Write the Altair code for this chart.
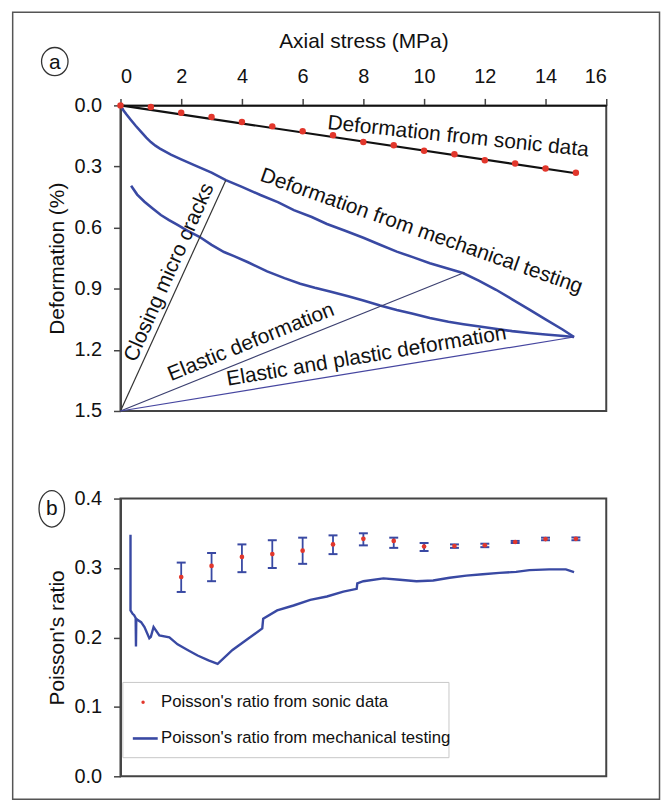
import altair as alt
import pandas as pd

FONT = "Liberation Sans"
BLUE = "#3949a3"
RED = "#e2372c"
INK = "#111111"

# ---------------- Panel (a) data ----------------
sonic_stress = list(range(0, 16))
sonic_deform = [0.0, 0.008, 0.036, 0.057, 0.082, 0.103, 0.127, 0.147,
                0.180, 0.196, 0.223, 0.240, 0.269, 0.285, 0.310, 0.331]
sonic_fit_stress = [0.0, 15.0]
sonic_fit_deform = [0.0, 0.333]

load_stress = [0.0, 0.1, 0.2, 0.35, 0.5, 0.68, 0.85, 1.0, 1.15, 1.3, 1.66, 2.0, 2.43,
               3.0, 3.47, 4.0, 4.61, 5.2, 5.71, 6.3, 6.8, 7.4, 8.0, 8.55, 9.1,
               9.65, 10.19, 10.75, 11.28, 11.8, 12.37, 12.9, 13.47, 14.0, 14.56, 14.94]
load_deform = [0.0, 0.025, 0.045, 0.073, 0.10, 0.13, 0.158, 0.18, 0.198, 0.212, 0.242, 0.265, 0.293,
               0.33, 0.367, 0.40, 0.44, 0.476, 0.514, 0.548, 0.582, 0.615, 0.65, 0.684, 0.718,
               0.746, 0.775, 0.80, 0.823, 0.86, 0.905, 0.952, 1.003, 1.05, 1.10, 1.137]

unload_stress = [0.35, 0.55, 0.79, 1.05, 1.33, 1.6, 1.88, 2.2, 2.6, 3.0, 3.41, 3.74,
                 4.2, 4.83, 5.4, 5.92, 6.4, 6.9, 7.5, 8.0, 8.55, 9.1, 9.6, 10.19,
                 10.8, 11.3, 11.83, 12.4, 12.9, 13.47, 14.0, 14.5, 14.94]
unload_deform = [0.395, 0.438, 0.473, 0.505, 0.538, 0.563, 0.587, 0.615, 0.645, 0.685, 0.72, 0.74,
                 0.77, 0.815, 0.848, 0.875, 0.895, 0.913, 0.937, 0.958, 0.982, 1.004, 1.022, 1.044,
                 1.062, 1.074, 1.085, 1.098, 1.108, 1.117, 1.125, 1.131, 1.137]

guide_names = ["Closing micro cracks", "Elastic deformation", "Elastic and plastic deformation"]
guide_start_stress = [0.0, 0.0, 0.0]
guide_start_deform = [1.5, 1.5, 1.5]
guide_end_stress = [3.47, 11.33, 14.94]
guide_end_deform = [0.367, 0.82, 1.137]
guide_colors = ["#333333", "#3c4070", "#4646a0"]

annotation_text = ["Deformation from sonic data", "Deformation from mechanical testing",
                   "Closing micro cracks", "Elastic deformation", "Elastic and plastic deformation"]
annotation_stress = [11.12, 9.91, 1.61, 4.30, 8.10]
annotation_deform = [0.154, 0.619, 0.82, 1.163, 1.233]
annotation_angle = [6, 19.4, 294, 338, 350.5]

# ---------------- Panel (b) data ----------------
pr_sonic_stress = list(range(2, 16))
pr_sonic = [0.287, 0.303, 0.316, 0.320, 0.325, 0.334, 0.342, 0.339, 0.331, 0.3316,
            0.3326, 0.3374, 0.3417, 0.342]
pr_sonic_lo = [0.2655, 0.281, 0.294, 0.300, 0.306, 0.320, 0.3326, 0.329, 0.3245, 0.329,
               0.330, 0.336, 0.340, 0.340]
pr_sonic_hi = [0.3078, 0.3216, 0.334, 0.340, 0.3437, 0.347, 0.350, 0.3437, 0.336, 0.334,
               0.335, 0.339, 0.3437, 0.344]

pr_mech_stress = [0.33, 0.33, 0.4, 0.45, 0.50, 0.51, 0.52, 0.57, 0.68, 0.79, 0.95, 1.0,
                  1.09, 1.28, 1.61, 1.88, 2.21, 2.54, 2.9, 3.2, 3.69, 4.2, 4.67, 4.7,
                  5.16, 5.7, 6.25, 6.8, 7.34, 7.78, 7.8, 8.0, 8.66, 9.2, 9.75, 10.3,
                  10.84, 11.39, 11.93, 12.48, 13.03, 13.47, 14.12, 14.67, 14.94]
pr_mech = [0.348, 0.239, 0.234, 0.232, 0.228, 0.187, 0.227, 0.225, 0.222, 0.215, 0.199, 0.201,
           0.215, 0.203, 0.200, 0.190, 0.182, 0.174, 0.167, 0.162, 0.182, 0.198, 0.213, 0.227,
           0.239, 0.246, 0.254, 0.259, 0.266, 0.270, 0.278, 0.281, 0.285, 0.283, 0.281, 0.282,
           0.286, 0.289, 0.291, 0.293, 0.2945, 0.297, 0.298, 0.298, 0.294]

legend_labels = ["Poisson's ratio from sonic data", "Poisson's ratio from mechanical testing"]
panel_labels = ["a", "b"]

# ---------------- tables ----------------
df_sonic = pd.DataFrame({"x": sonic_stress, "d": sonic_deform})
df_fit = pd.DataFrame({"x": sonic_fit_stress, "d": sonic_fit_deform})
df_curves = pd.concat([
    pd.DataFrame({"x": load_stress, "d": load_deform, "curve": "load", "i": range(len(load_stress))}),
    pd.DataFrame({"x": unload_stress, "d": unload_deform, "curve": "unload", "i": range(len(unload_stress))}),
])
df_guides = pd.DataFrame({"name": guide_names, "x0": guide_start_stress, "d0": guide_start_deform,
                          "x1": guide_end_stress, "d1": guide_end_deform, "c": guide_colors})
df_ann = pd.DataFrame({"t": annotation_text, "x": annotation_stress, "d": annotation_deform,
                       "a": annotation_angle})
df_pr = pd.DataFrame({"x": pr_sonic_stress, "v": pr_sonic, "lo": pr_sonic_lo, "hi": pr_sonic_hi})
df_caps = pd.DataFrame({"x": pr_sonic_stress + pr_sonic_stress, "v": pr_sonic_lo + pr_sonic_hi})
df_mech = pd.DataFrame({"x": pr_mech_stress, "v": pr_mech, "i": range(len(pr_mech))})
one = pd.DataFrame({"k": [0]})

# ---------------- scales / axes ----------------
xs = alt.Scale(domain=[0, 16], nice=False, zero=False)
x_axis_top = alt.Axis(orient="top", values=list(range(0, 17, 2)), format="d",
                      title="Axial stress (MPa)", titleY=-58, titleBaseline="alphabetic",
                      domainColor=INK)
ys_a = alt.Scale(domain=[0, 1.5], reverse=True, nice=False, zero=False)
y_axis_a = alt.Axis(values=[0, 0.3, 0.6, 0.9, 1.2, 1.5], format=".1f",
                    title="Deformation (%)", titleX=-57.6, titleBaseline="alphabetic",
                    titleAngle=270)
ys_b = alt.Scale(domain=[0, 0.4], nice=False)
y_axis_b = alt.Axis(values=[0, 0.1, 0.2, 0.3, 0.4], format=".1f",
                    title="Poisson's ratio", titleX=-57.3, titleBaseline="alphabetic",
                    titleAngle=270)


def XA(f="x"):
    return alt.X(f"{f}:Q", scale=xs, axis=x_axis_top)


def YA(f="d"):
    return alt.Y(f"{f}:Q", scale=ys_a, axis=y_axis_a)


def XB(f="x"):
    return alt.X(f"{f}:Q", scale=xs, axis=None)


def YB(f="v"):
    return alt.Y(f"{f}:Q", scale=ys_b, axis=y_axis_b)


ellipse_a = "M -0.94 0 A 0.94 1 0 1 1 0.94 0 A 0.94 1 0 1 1 -0.94 0 Z"
ellipse_b = "M -0.7 0 A 0.7 1 0 1 1 0.7 0 A 0.7 1 0 1 1 -0.7 0 Z"

# ---------------- panel (a) ----------------
frame = alt.Chart(one).mark_rect(fillOpacity=0, stroke="#555555", strokeWidth=1.5).encode(
    x=alt.value(-108.3), x2=alt.value(541.5), y=alt.value(-93.5), y2=alt.value(697))

curves = alt.Chart(df_curves).mark_line(color=BLUE, strokeWidth=2.6).encode(
    x=XA(), y=YA(), detail="curve:N", order="i:Q")

guides = alt.Chart(df_guides).mark_rule(strokeWidth=1.2).encode(
    x=XA("x0"), x2="x1:Q", y=YA("d0"), y2="d1:Q", color=alt.Color("c:N", scale=None))

fit = alt.Chart(df_fit).mark_line(color=INK, strokeWidth=2.2).encode(x=XA(), y=YA())

sonic_pts = alt.Chart(df_sonic).mark_circle(color=RED, size=42, opacity=1).encode(x=XA(), y=YA())

ann = alt.Chart(df_ann).mark_text(font=FONT, fontSize=21, color=INK, align="center",
                                  baseline="middle").encode(
    x=XA(), y=YA(), text="t:N", angle=alt.Angle("a:Q", scale=None))

lab_a_df = pd.DataFrame({"t": [panel_labels[0]]})
lab_a_ring = alt.Chart(lab_a_df).mark_point(shape=ellipse_a, size=801, filled=False,
                                            color="#333333", strokeWidth=1.3, opacity=1).encode(
    x=alt.value(-66), y=alt.value(-44))
lab_a_txt = alt.Chart(lab_a_df).mark_text(font=FONT, fontSize=21, color=INK, baseline="middle").encode(
    x=alt.value(-66), y=alt.value(-43), text="t:N")

top = alt.layer(frame, curves, guides, fit, sonic_pts, ann, lab_a_ring, lab_a_txt).properties(
    width=488, height=307)

# ---------------- panel (b) ----------------
mech = alt.Chart(df_mech).mark_line(color=BLUE, strokeWidth=2.4).encode(
    x=XB(), y=YB(), order="i:Q")
err = alt.Chart(df_pr).mark_rule(color=BLUE, strokeWidth=1.8).encode(
    x=XB(), y=YB("lo"), y2="hi:Q")
caps = alt.Chart(df_caps).mark_tick(color=BLUE, orient="horizontal", size=9, thickness=2,
                                    opacity=1).encode(x=XB(), y=YB())
pr_pts = alt.Chart(df_pr).mark_circle(color=RED, size=22, opacity=1).encode(x=XB(), y=YB())

leg_box = alt.Chart(one).mark_rect(fill="white", stroke="#c8c8c8", strokeWidth=1).encode(
    x=alt.value(2.4), x2=alt.value(330), y=alt.value(184.7), y2=alt.value(260.3))
leg_dot = alt.Chart(one).mark_circle(color=RED, size=12, opacity=1).encode(
    x=alt.value(22.7), y=alt.value(204.7))
leg_line = alt.Chart(one).mark_rule(color=BLUE, strokeWidth=2.6).encode(
    x=alt.value(12.4), x2=alt.value(37.4), y=alt.value(241))
leg_t1 = alt.Chart(pd.DataFrame({"t": [legend_labels[0]]})).mark_text(
    font=FONT, fontSize=16.8, color=INK, align="left", baseline="middle").encode(
    x=alt.value(40.7), y=alt.value(204), text="t:N")
leg_t2 = alt.Chart(pd.DataFrame({"t": [legend_labels[1]]})).mark_text(
    font=FONT, fontSize=16.8, color=INK, align="left", baseline="middle").encode(
    x=alt.value(40.7), y=alt.value(241), text="t:N")

lab_b_df = pd.DataFrame({"t": [panel_labels[1]]})
lab_b_ring = alt.Chart(lab_b_df).mark_point(shape=ellipse_b, size=1347, filled=False,
                                            color="#333333", strokeWidth=1.3, opacity=1).encode(
    x=alt.value(-69), y=alt.value(10.3))
lab_b_txt = alt.Chart(lab_b_df).mark_text(font=FONT, fontSize=21, color=INK, baseline="middle").encode(
    x=alt.value(-69), y=alt.value(10.3), text="t:N")

bottom = alt.layer(mech, err, caps, pr_pts, leg_box, leg_dot, leg_line, leg_t1, leg_t2,
                   lab_b_ring, lab_b_txt).properties(width=488, height=279)

chart = alt.vconcat(top, bottom, spacing=88, bounds="flush").properties(
    padding={"left": 2, "top": 0, "right": 0, "bottom": 0}
).configure_view(stroke="#444444", strokeWidth=2).configure_axis(
    labelFont=FONT, labelFontSize=20, labelColor=INK, titleFont=FONT, titleFontSize=21,
    titleFontWeight="normal", titleColor=INK, domainColor="#444444", domainWidth=2,
    tickColor="#444444", tickWidth=1.5, tickSize=7, labelPadding=12, grid=False)

chart.save("out.html", embed_options={"renderer": "svg", "actions": False})
